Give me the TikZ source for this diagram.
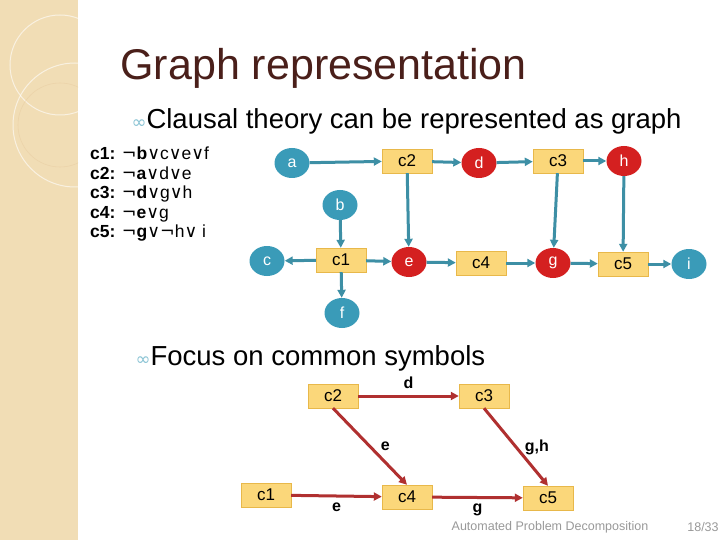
\documentclass[tikz,border=0pt]{standalone}
\usepackage{fontspec}
\setmainfont{Liberation Sans}
\newfontfamily\dv{DejaVu Sans}
\usetikzlibrary{arrows.meta,shapes.geometric}
\definecolor{teal1}{HTML}{3A9BB8}
\definecolor{redn}{HTML}{D42020}
\definecolor{boxf}{HTML}{FBD77A}
\definecolor{boxd}{HTML}{E8B84A}
\definecolor{edgeb}{HTML}{3D8FA5}
\definecolor{edger}{HTML}{B03030}
\definecolor{beige}{HTML}{F1DDB5}
\definecolor{titlec}{HTML}{4A1F1A}
\begin{document}
\begin{tikzpicture}[x=1pt,y=-1pt,
  sym/.style={ellipse,fill=teal1,text=white,minimum width=35pt,minimum height=30pt,inner sep=0pt,font=\fontsize{16}{16}\selectfont},
  redsym/.style={sym,fill=redn},
  cbox/.style={draw=boxd,fill=boxf,minimum width=50pt,minimum height=24pt,inner sep=0pt,font=\fontsize{17}{17}\selectfont},
  bl/.style={draw=edgeb,line width=3pt,-{Triangle[length=8pt,width=8pt]}},
  rd/.style={draw=edger,line width=3pt,-{Triangle[length=8pt,width=8pt]}},
  lab/.style={font=\bfseries\fontsize{16}{16}\selectfont},
  bul/.style={text=teal1!60}]
\useasboundingbox (0,0) rectangle (720,540);
\fill[white] (0,0) rectangle (720,540);
\fill[beige] (0,0) rectangle (78,540);
\begin{scope}
\clip (0,0) rectangle (78,540);
\draw[white,line width=1pt,opacity=.6] (60,65) circle (50);
\draw[white,line width=1pt,opacity=.6] (75,125) circle (62);
\draw[beige!80!brown,line width=.6pt,opacity=.5] (60,125) circle (42);
\end{scope}
\node[anchor=west,text=titlec,font=\fontsize{43}{43}\selectfont] (title) at (117,68) {Graph representation};
\node[anchor=west,font=\fontsize{27.5}{27.5}\selectfont] (b1) at (128,121) {{\dv\color{teal1!60}\fontsize{18}{18}\selectfont ∞}Clausal theory can be represented as graph};
\node[anchor=north west,align=left,inner sep=0pt,font=\fontsize{17.5}{19.5}\selectfont] (cl) at (90,147) {%
\textbf{c1:} {\dv¬}\textbf{b}{\dv∨}c{\dv∨}e{\dv∨}f\\
\textbf{c2:} {\dv¬}\textbf{a}{\dv∨}d{\dv∨}e\\
\textbf{c3:} {\dv¬}\textbf{d}{\dv∨}g{\dv∨}h\\
\textbf{c4:} {\dv¬}\textbf{e}{\dv∨}g\\
\textbf{c5:} {\dv¬}\textbf{g}{\dv∨¬}h{\dv∨} i};
% top graph
\node[sym] (a) at (292,163) {a};
\node[cbox] (c2) at (407,161) {c2};
\node[redsym] (d) at (479,163) {d};
\node[cbox] (c3) at (558,161) {c3};
\node[redsym] (h) at (624,161) {h};
\node[sym] (b) at (340,205) {b};
\node[sym] (c) at (267,261) {c};
\node[cbox] (c1) at (341,260) {c1};
\node[redsym] (e) at (409,262) {e};
\node[cbox] (c4) at (481,263) {c4};
\node[redsym] (g) at (553,263) {g};
\node[cbox] (c5) at (623,264) {c5};
\node[sym] (i) at (689,264) {i};
\node[sym] (f) at (342,313) {f};
\draw[bl] (a) -- (c2);
\draw[bl] (c2) -- (d);
\draw[bl] (d) -- (c3);
\draw[bl] (c3) -- (h);
\draw[bl] (c2) -- (e);
\draw[bl] (c3) -- (g);
\draw[bl] (h) -- (c5);
\draw[bl] (b) -- (c1);
\draw[bl] (c1) -- (c);
\draw[bl] (c1) -- (e);
\draw[bl] (c1) -- (f);
\draw[bl] (e) -- (c4);
\draw[bl] (c4) -- (g);
\draw[bl] (g) -- (c5);
\draw[bl] (c5) -- (i);
\node[anchor=west,font=\fontsize{27.5}{27.5}\selectfont] (b2) at (132,358) {{\dv\color{teal1!60}\fontsize{18}{18}\selectfont ∞}Focus on common symbols};
% bottom graph
\node[cbox] (k2) at (333,396) {c2};
\node[cbox] (k3) at (484,396) {c3};
\node[cbox] (k1) at (266,495) {c1};
\node[cbox] (k4) at (407,497) {c4};
\node[cbox] (k5) at (548,498) {c5};
\draw[rd] (k2) -- node[lab,above=3pt]{d} (k3);
\draw[rd] (k2.south) -- node[lab,right=6pt]{e} (k4.north);
\draw[rd] (k3.south) -- node[lab,right=4pt]{g,h} (k5.north);
\draw[rd] (k1) -- node[lab,below=2pt]{e} (k4);
\draw[rd] (k4) -- node[lab,below=2pt]{g} (k5);
\node[text=gray!80,font=\fontsize{12.5}{12.5}\selectfont] (foot) at (550,527) {Automated Problem Decomposition};
\node[text=gray!80,font=\fontsize{12.5}{12.5}\selectfont] (pg) at (703,527) {18/33};
\end{tikzpicture}
\end{document}
